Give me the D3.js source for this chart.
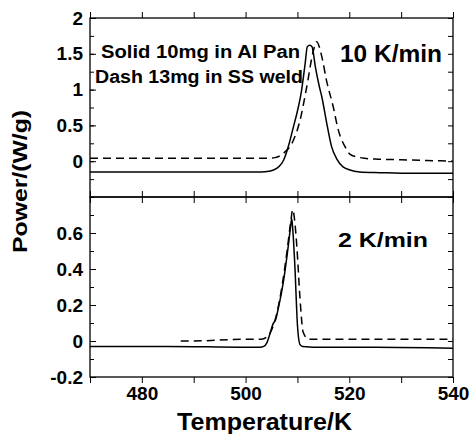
<!DOCTYPE html>
<html>
<head>
<meta charset="utf-8">
<script src="https://cdn.jsdelivr.net/npm/d3@7"></script>
<style>
  body { margin: 0; background: #fff; }
  svg { display: block; }
  text { font-family: "Liberation Sans", Arial, sans-serif; font-weight: bold; fill: #000; }
</style>
</head>
<body>
<svg id="chart" width="470" height="434"></svg>
<script>
// --- data ---
// 10 K/min, solid: 10mg in Al pan
const fastSolidT = [470, 485, 500, 503, 504.5, 505.5, 506.5, 507.3, 508.3, 509.3, 509.9, 510.8, 511.5, 511.9, 512.4, 512.8, 513.5, 514.2, 514.7, 515.6, 516.6, 517.6, 518.8, 520, 522, 526, 532, 540];
const fastSolidP = [-0.15, -0.15, -0.15, -0.15, -0.14, -0.12, -0.07, 0.01, 0.22, 0.5, 0.67, 0.99, 1.37, 1.6, 1.62, 1.6, 1.3, 1.05, 0.9, 0.55, 0.2, 0.03, -0.08, -0.12, -0.15, -0.16, -0.17, -0.17];
// 10 K/min, dashed: 13mg in SS weld
const fastDashT = [470, 485, 500, 504, 505.7, 507.3, 509.2, 510.5, 511.8, 513.1, 513.7, 514.7, 515.6, 516.9, 517.9, 519.2, 520.1, 521.5, 523, 525, 530, 535, 540];
const fastDashP = [0.04, 0.04, 0.04, 0.04, 0.05, 0.11, 0.29, 0.57, 1.04, 1.55, 1.67, 1.46, 1.13, 0.76, 0.43, 0.2, 0.1, 0.06, 0.04, 0.03, 0.02, 0.01, 0.0];
// 2 K/min, solid
const slowSolidT = [470, 485, 500, 502.8, 503.5, 504.1, 504.7, 505.3, 505.8, 506.3, 507.3, 508.2, 508.7, 508.9, 509.1, 509.5, 510, 510.5, 511, 515, 525, 540];
const slowSolidP = [-0.03, -0.03, -0.035, -0.035, -0.03, -0.01, 0.04, 0.095, 0.12, 0.18, 0.33, 0.52, 0.64, 0.68, 0.62, 0.42, 0.09, -0.02, -0.03, -0.035, -0.035, -0.04];
// 2 K/min, dashed
const slowDashT = [487.5, 490, 495, 500, 503, 504, 505, 506, 507, 508, 508.7, 509.1, 509.5, 509.9, 510.5, 511.1, 512.1, 515, 525, 540];
const slowDashP = [0.0, 0.0, 0.005, 0.01, 0.01, 0.02, 0.06, 0.15, 0.3, 0.5, 0.66, 0.73, 0.66, 0.52, 0.235, 0.05, 0.01, 0.01, 0.01, 0.01];

const xTicks = [470, 480, 490, 500, 510, 520, 530, 540];
const xLabels = [480, 500, 520, 540];
const topTicks = [-0.5, -0.25, 0, 0.25, 0.5, 0.75, 1, 1.25, 1.5, 1.75, 2];
const topLabels = [0, 0.5, 1, 1.5, 2];
const botTicks = [-0.2, -0.1, 0, 0.1, 0.2, 0.3, 0.4, 0.5, 0.6, 0.7, 0.8];
const botLabels = [-0.2, 0, 0.2, 0.4, 0.6];

const pLeft = 90, pRight = 453, pTop = 18, pMid = 197, pBottom = 377;
const svg = d3.select("#chart");

const x = d3.scaleLinear().domain([470, 540]).range([pLeft, pRight]);
const yTop = d3.scaleLinear().domain([-0.5, 2]).range([pMid, pTop]);
const yBot = d3.scaleLinear().domain([-0.2, 0.8]).range([pBottom, pMid]);

function fmt(d) { return String(d); }

function styleAxis(g) {
  g.attr("font-family", null).attr("font-size", null);
  g.select(".domain").remove();
  g.selectAll("line").attr("stroke", "#000").attr("stroke-width", 1);
  g.selectAll("text").style("font-size", "19px");
}

function panel(y, ticks, labels, y0, y1) {
  const isLab = v => labels.some(l => Math.abs(l - v) < 1e-9);
  // left: major ticks with labels, minor ticks short
  svg.append("g").attr("transform", `translate(${pLeft},0)`)
    .call(d3.axisLeft(y).tickValues(ticks.filter(isLab)).tickSize(-6).tickPadding(7).tickFormat(fmt))
    .call(styleAxis);
  svg.append("g").attr("transform", `translate(${pLeft},0)`)
    .call(d3.axisLeft(y).tickValues(ticks).tickSize(-4).tickFormat(""))
    .call(styleAxis);
  svg.append("g").attr("transform", `translate(${pRight},0)`)
    .call(d3.axisRight(y).tickValues(ticks).tickSize(-5).tickFormat(""))
    .call(styleAxis);
  // top and bottom inward x ticks
  svg.append("g").attr("transform", `translate(0,${y0})`)
    .call(d3.axisTop(x).tickValues(xTicks).tickSize(-6).tickFormat(""))
    .call(styleAxis);
  svg.append("g").attr("transform", `translate(0,${y1})`)
    .call(d3.axisBottom(x).tickValues(xTicks).tickSize(-6).tickFormat(""))
    .call(styleAxis);
  // frame
  svg.append("rect").attr("x", pLeft).attr("y", y1).attr("width", pRight - pLeft).attr("height", y0 - y1)
    .attr("fill", "none").attr("stroke", "#000").attr("stroke-width", 1.3);
}

panel(yTop, topTicks, topLabels, pMid, pTop);
panel(yBot, botTicks, botLabels, pBottom, pMid);

// x labels under the lower panel
svg.append("g").attr("transform", `translate(0,${pBottom})`)
  .call(d3.axisBottom(x).tickValues(xLabels).tickSize(0).tickPadding(10).tickFormat(fmt))
  .call(styleAxis);

function curve(ts, ps, y, dashed) {
  const line = d3.line().x(d => x(d[0])).y(d => y(d[1])).curve(d3.curveMonotoneX);
  svg.append("path")
    .datum(d3.zip(ts, ps))
    .attr("d", line)
    .attr("fill", "none")
    .attr("stroke", "#000")
    .attr("stroke-width", 1.5)
    .attr("stroke-dasharray", dashed ? "8,5" : null);
}

curve(fastSolidT, fastSolidP, yTop, false);
curve(fastDashT, fastDashP, yTop, true);
curve(slowSolidT, slowSolidP, yBot, false);
curve(slowDashT, slowDashP, yBot, true);

function label(txt, px, py, size, len, anchor, rot) {
  const t = svg.append("text")
    .attr("x", px).attr("y", py)
    .attr("text-anchor", anchor || "start")
    .style("font-size", size + "px")
    .attr("textLength", len)
    .attr("lengthAdjust", "spacingAndGlyphs")
    .text(txt);
  if (rot) t.attr("transform", `rotate(${rot},${px},${py})`);
}

label("Solid 10mg in Al Pan", 101, 58, 18, 199);
label("Dash 13mg in SS weld", 95, 83, 18, 208);
label("10 K/min", 340, 62, 23, 102);
label("2 K/min", 338, 247, 21, 90);
label("Temperature/K", 264.5, 430, 23, 175, "middle");
label("Power/(W/g)", 27, 181.5, 21, 143, "middle", -90);
</script>
</body>
</html>
